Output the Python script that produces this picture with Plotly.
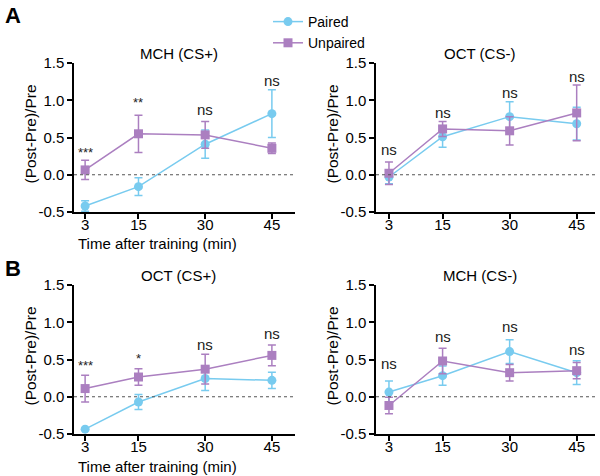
import plotly.graph_objects as go

times = [3, 15, 30, 45]

# Panel A left: MCH (CS+)
a1_paired = [-0.42, -0.16, 0.41, 0.82]
a1_paired_err = [0.07, 0.12, 0.19, 0.32]
a1_unpaired = [0.065, 0.55, 0.535, 0.355]
a1_unpaired_err = [0.13, 0.25, 0.18, 0.07]
a1_sig = ["***", "**", "ns", "ns"]
a1_sig_y = [0.30, 0.97, 0.88, 1.27]

# Panel A right: OCT (CS-)
a2_paired = [-0.03, 0.51, 0.78, 0.685]
a2_paired_err = [0.09, 0.14, 0.20, 0.22]
a2_unpaired = [0.02, 0.615, 0.59, 0.83]
a2_unpaired_err = [0.15, 0.10, 0.19, 0.375]
a2_sig = ["ns", "ns", "ns", "ns"]
a2_sig_y = [0.34, 0.83, 1.10, 1.32]

# Panel B left: OCT (CS+)
b1_paired = [-0.435, -0.07, 0.245, 0.22]
b1_paired_err = [0.0, 0.10, 0.16, 0.11]
b1_unpaired = [0.11, 0.265, 0.37, 0.555]
b1_unpaired_err = [0.18, 0.11, 0.20, 0.14]
b1_sig = ["***", "*", "ns", "ns"]
b1_sig_y = [0.42, 0.52, 0.70, 0.85]

# Panel B right: MCH (CS-)
b2_paired = [0.063, 0.283, 0.606, 0.323]
b2_paired_err = [0.15, 0.13, 0.16, 0.16]
b2_unpaired = [-0.117, 0.48, 0.323, 0.35]
b2_unpaired_err = [0.11, 0.17, 0.11, 0.11]
b2_sig = ["ns", "ns", "ns", "ns"]
b2_sig_y = [0.44, 0.81, 0.94, 0.63]

titles = ["MCH (CS+)", "OCT (CS-)", "OCT (CS+)", "MCH (CS-)"]
y_ticks = [-0.5, 0.0, 0.5, 1.0, 1.5]
y_tick_text = ["-0.5", "0.0", "0.5", "1.0", "1.5"]

BLUE = "#78CBEF"
PURPLE = "#AB7FC0"
FONT = "Liberation Sans, Arial, sans-serif"
W, H = 600, 476

panels = [
    (a1_paired, a1_paired_err, a1_unpaired, a1_unpaired_err, a1_sig, a1_sig_y),
    (a2_paired, a2_paired_err, a2_unpaired, a2_unpaired_err, a2_sig, a2_sig_y),
    (b1_paired, b1_paired_err, b1_unpaired, b1_unpaired_err, b1_sig, b1_sig_y),
    (b2_paired, b2_paired_err, b2_unpaired, b2_unpaired_err, b2_sig, b2_sig_y),
]

# pixel boxes (left, right, top, bottom) for each plot area
boxes = [(74, 295, 63, 212), (376, 595, 63, 212), (74, 295, 285, 434), (376, 595, 285, 434)]
xranges = [[0.5, 50.2], [0.1, 49.1], [0.5, 50.2], [0.1, 49.1]]


def ann(x, y, text, size, **kw):
    d = dict(x=x / W, y=1 - y / H, xref="paper", yref="paper", text=text, showarrow=False,
             xanchor="center", yanchor="middle",
             font=dict(size=size, color="black", family=FONT))
    d.update(kw)
    return d


fig = go.Figure()
annotations = []
shapes = []

for i, (pv, pe, uv, ue, sig, sigy) in enumerate(panels):
    n = i + 1
    xa = "x" if n == 1 else f"x{n}"
    ya = "y" if n == 1 else f"y{n}"
    l, r, t, b = boxes[i]
    fig.add_trace(go.Scatter(
        x=times, y=pv, mode="lines+markers", name="Paired",
        legendgroup="p", showlegend=(i == 0),
        line=dict(color=BLUE, width=1.5),
        marker=dict(symbol="circle", size=9, color=BLUE),
        error_y=dict(type="data", array=pe, color=BLUE, thickness=1.5, width=4),
        xaxis=xa, yaxis=ya))
    fig.add_trace(go.Scatter(
        x=times, y=uv, mode="lines+markers", name="Unpaired",
        legendgroup="u", showlegend=(i == 0),
        line=dict(color=PURPLE, width=1.5),
        marker=dict(symbol="square", size=9, color=PURPLE),
        error_y=dict(type="data", array=ue, color=PURPLE, thickness=1.5, width=4),
        xaxis=xa, yaxis=ya))

    axkey = "xaxis" if n == 1 else f"xaxis{n}"
    aykey = "yaxis" if n == 1 else f"yaxis{n}"
    fig.update_layout(**{
        axkey: dict(domain=[l / W, r / W], range=xranges[i], anchor=ya, automargin=False,
                    tickvals=times, ticktext=[str(v) for v in times],
                    showline=True, linecolor="black", linewidth=1.5,
                    ticks="outside", ticklen=5, tickwidth=1.5, tickcolor="black",
                    ticklabelstandoff=-7,
                    showgrid=False, zeroline=False,
                    tickfont=dict(size=15, color="black", family=FONT)),
        aykey: dict(domain=[1 - b / H, 1 - t / H], range=[-0.5, 1.5], anchor=xa, automargin=False,
                    tickvals=y_ticks, ticktext=y_tick_text,
                    showline=True, linecolor="black", linewidth=1.5,
                    ticks="outside", ticklen=5, tickwidth=1.5, tickcolor="black",
                    showgrid=False, zeroline=False,
                    tickfont=dict(size=15, color="black", family=FONT)),
    })

    shapes.append(dict(type="line", xref=f"{xa} domain", yref=ya, x0=0, x1=1, y0=0, y1=0,
                       line=dict(color="#555555", width=1.2, dash="dot")))

    for tx, s, sy in zip(times, sig, sigy):
        annotations.append(dict(x=tx, y=sy, xref=xa, yref=ya, text=s, showarrow=False,
                                xanchor="center", yanchor="middle",
                                font=dict(size=15 if s == "ns" else 13, color="#222222", family=FONT)))

    # panel title
    annotations.append(ann((l + r) / 2 - 6, t - 10, titles[i], 15))
    # y axis title
    annotations.append(ann(l - 44, (t + b) / 2 - 3, "(Post-Pre)/Pre", 15.5, textangle=-90))

# x axis titles for left panels
annotations.append(ann(157, 244, "Time after training (min)", 15))
annotations.append(ann(157, 466, "Time after training (min)", 15))
# panel letters
annotations.append(ann(13, 16, "<b>A</b>", 22))
annotations.append(ann(13, 268, "<b>B</b>", 22))

fig.update_layout(
    width=W, height=H, margin=dict(l=0, r=0, t=0, b=0, autoexpand=False),
    paper_bgcolor="white", plot_bgcolor="white",
    annotations=annotations, shapes=shapes,
    legend=dict(x=268 / W, y=1 - 6 / H, xanchor="left", yanchor="top",
                bgcolor="rgba(0,0,0,0)", itemwidth=30, tracegroupgap=0,
                font=dict(size=14, color="black", family=FONT)),
)

fig.write_html("out.html", config={"displayModeBar": False},
               post_script="document.body.style.margin='0px';")
